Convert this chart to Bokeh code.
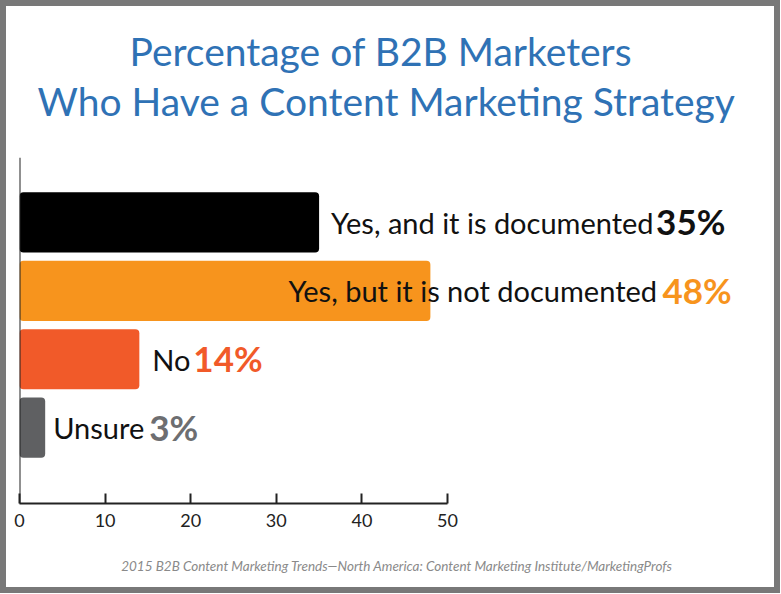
from bokeh.plotting import figure
from bokeh.models import ColumnDataSource, Range1d, Span, Title
from bokeh.core.properties import value
from bokeh.embed import file_html
from bokeh.resources import INLINE

# ---- data ----
categories = ["Yes, and it is documented", "Yes, but it is not documented", "No", "Unsure"]
values = [35, 48, 14, 3]
pct_labels = ["35%", "48%", "14%", "3%"]
x_ticks = [0, 10, 20, 30, 40, 50]

title_lines = ["Percentage of B2B Marketers", "Who Have a Content Marketing Strategy"]
source_note = "2015 B2B Content Marketing Trends\u2014North America: Content Marketing Institute/MarketingProfs"

# ---- styles ----
bar_colors = ["#000000", "#f7941d", "#f15a29", "#5f6062"]
pct_colors = ["#111111", "#f7941d", "#f15a29", "#6d6e71"]
label_shift = [12, -142, 13, 8]       # px offset of label start from bar end
pct_shift = [337, 232, 54, 104]       # px offset of percent start from bar end

FRAME_BORDER = 6
W, H = 768, 581
LEFT, TOP, BOTTOM = 13, 151, 84
frame_w = W - LEFT
px_per_unit = 8.56

n = len(categories)
ypos = list(range(n - 1, -1, -1))

src = ColumnDataSource(dict(
    y=ypos, v=values, cat=categories, pct=pct_labels,
    color=bar_colors, pcolor=pct_colors,
    lshift=label_shift, pshift=pct_shift,
))

p = figure(width=W, height=H, output_backend="svg", toolbar_location=None,
           x_range=Range1d(0, frame_w / px_per_unit),
           y_range=Range1d(-1.11, n - 1 + 0.95),
           min_border_left=LEFT, min_border_right=0,
           min_border_top=TOP, min_border_bottom=BOTTOM)
p.styles = {"margin": f"{FRAME_BORDER}px", "outline": f"{FRAME_BORDER}px solid #787878"}
p.outline_line_color = None
p.background_fill_color = "white"
p.border_fill_color = "white"
p.xgrid.visible = False
p.ygrid.visible = False
p.yaxis.visible = False

p.hbar(y="y", right="v", left=0, height=0.88, fill_color="color", line_color=None,
       border_radius=4, source=src)

p.text(x="v", y="y", text="cat", x_offset="lshift", source=src,
       text_font=value("Lato"), text_font_size=value("29px"),
       text_color="#111111", text_baseline="middle", text_align="left")
p.text(x="v", y="y", text="pct", x_offset="pshift", y_offset=-1, source=src,
       text_font=value("Lato"), text_font_size=value("35px"), text_font_style="bold",
       text_color="pcolor", text_baseline="middle", text_align="left")

# axes
p.add_layout(Span(location=0, dimension="height", line_color="#222222", line_width=2))
xa = p.xaxis[0]
xa.bounds = (0, 50)
xa.ticker = x_ticks
xa.minor_tick_line_color = None
xa.major_tick_in = 10
xa.major_tick_out = 0
xa.axis_line_width = 2
xa.axis_line_color = "#222222"
xa.major_tick_line_width = 2
xa.major_tick_line_color = "#222222"
xa.major_label_standoff = 10
xa.major_label_text_font = "Lato"
xa.major_label_text_font_size = "18px"
xa.major_label_text_color = "#222222"

# titles (added closest-to-frame first): a thin spacer, then the two lines
p.add_layout(Title(text=" ", text_font_size="1px", standoff=30), "above")
p.add_layout(Title(text=title_lines[1], align="left", text_font="Lato",
                   text_font_size="39px", text_font_style="normal",
                   text_color="#2f72b5", standoff=2, offset=18), "above")
p.add_layout(Title(text=title_lines[0], align="left", text_font="Lato",
                   text_font_size="39px", text_font_style="normal",
                   text_color="#2f72b5", standoff=2, offset=110), "above")

# source note below the axis, with a thin spacer in between
p.add_layout(Title(text=" ", text_font_size="1px", standoff=22), "below")
p.add_layout(Title(text=source_note, align="center", text_font="Lato",
                   text_font_size="13.5px", text_font_style="italic",
                   text_color="#8a8a8a", standoff=2), "below")

open("out.html", "w").write(file_html(p, INLINE))
